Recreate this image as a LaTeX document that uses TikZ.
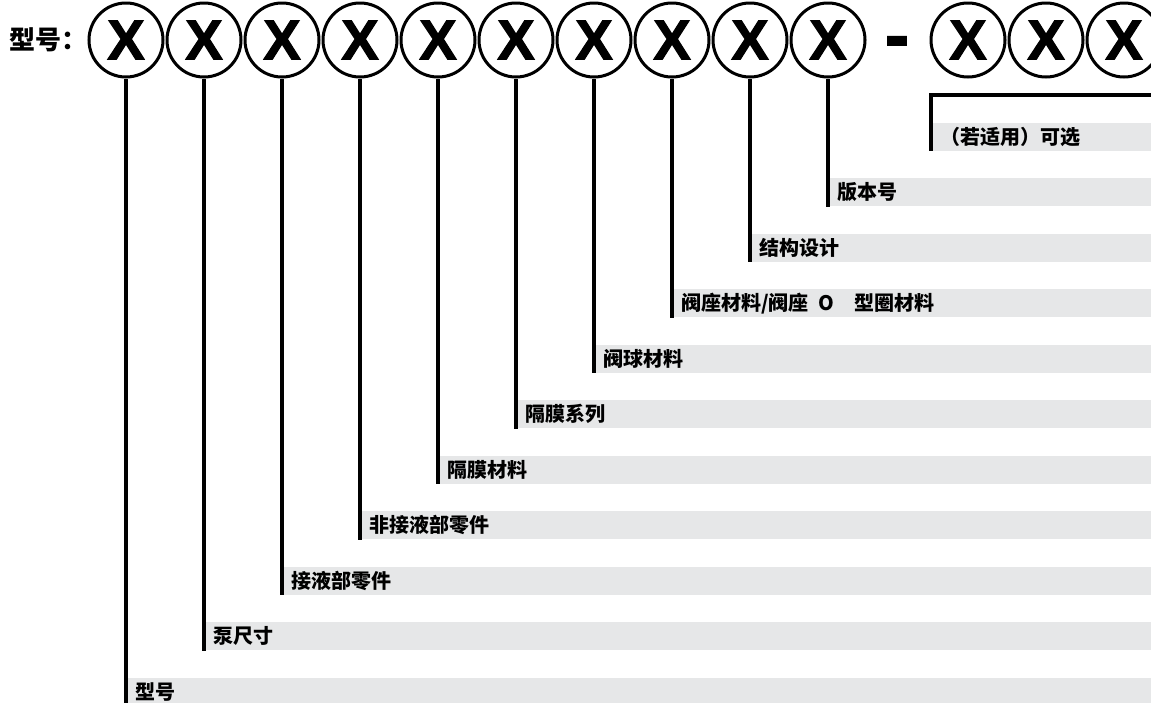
\documentclass[tikz,border=0pt]{standalone}
\usepackage{fontspec}
\setmainfont{Liberation Sans}
\newfontfamily\cjk{Noto Sans CJK SC}
\newfontfamily\heavy{Liberation Sans Bold}[FakeBold=2]
\definecolor{bargray}{RGB}{230,231,232}

\begin{document}
\begin{tikzpicture}[x=1pt, y=-1pt,
		digit/.style={circle, draw, line width=3pt, minimum size=74pt, inner sep=0pt, font=\heavy\fontsize{56}{56}\selectfont},
		lbl/.style={anchor=south west, fill=bargray, minimum height=28pt, inner ysep=0pt, inner xsep=9pt, text width=1100pt, align=left, font=\cjk\fontsize{20}{22}\selectfont\bfseries},
		stem/.style={line width=4pt}]
		\useasboundingbox (0,0) rectangle (1151,702);
		\clip (0,0) rectangle (1151,702);
		
		% Nodes
		\node[anchor=west, font=\cjk\fontsize{26}{26}\selectfont\bfseries] (title) at (6,40) {型号：};
		\node[digit] (1) at (126,40) {X};
		\node[digit] (2) at (204,40) {X};
		\node[digit] (3) at (282,40) {X};
		\node[digit] (4) at (360,40) {X};
		\node[digit] (5) at (438,40) {X};
		\node[digit] (6) at (516,40) {X};
		\node[digit] (7) at (594,40) {X};
		\node[digit] (8) at (672,40) {X};
		\node[digit] (9) at (750,40) {X};
		\node[digit] (10) at (828,40) {X};
		\node[anchor=base, inner sep=0pt, font=\heavy\fontsize{72}{72}\selectfont] (dash) at (897,59.5) {-};
		\node[digit] (11) at (968,40) {X};
		\node[digit] (12) at (1046,40) {X};
		\node[digit] (13) at (1124,40) {X};
		
		% Labels
		\node[lbl] (L1) at (126,706) {型号};
		\node[lbl] (L2) at (204,650.5) {泵尺寸};
		\node[lbl] (L3) at (282,595) {接液部零件};
		\node[lbl] (L4) at (360,539.5) {非接液部零件};
		\node[lbl] (L5) at (438,484) {隔膜材料};
		\node[lbl] (L6) at (516,428.5) {隔膜系列};
		\node[lbl] (L7) at (594,373) {阀球材料};
		\node[lbl] (L8) at (672,317.5) {阀座材料/阀座\hspace{10pt}O\hspace{20pt}型圈材料};
		\node[lbl] (L9) at (750,262) {结构设计};
		\node[lbl] (L10) at (828,206.5) {版本号};
		\node[lbl] (L11) at (931,151) {（若适用）可选};
		\coordinate (brk) at (1151,95);
		
		% Edges
		\draw[stem] (1.south) -- (1.south |- L1.south);
		\draw[stem] (2.south) -- (2.south |- L2.south);
		\draw[stem] (3.south) -- (3.south |- L3.south);
		\draw[stem] (4.south) -- (4.south |- L4.south);
		\draw[stem] (5.south) -- (5.south |- L5.south);
		\draw[stem] (6.south) -- (6.south |- L6.south);
		\draw[stem] (7.south) -- (7.south |- L7.south);
		\draw[stem] (8.south) -- (8.south |- L8.south);
		\draw[stem] (9.south) -- (9.south |- L9.south);
		\draw[stem] (10.south) -- (10.south |- L10.south);
		\draw[stem] (brk) -| (L11.south west);
	\end{tikzpicture}
\end{document}
